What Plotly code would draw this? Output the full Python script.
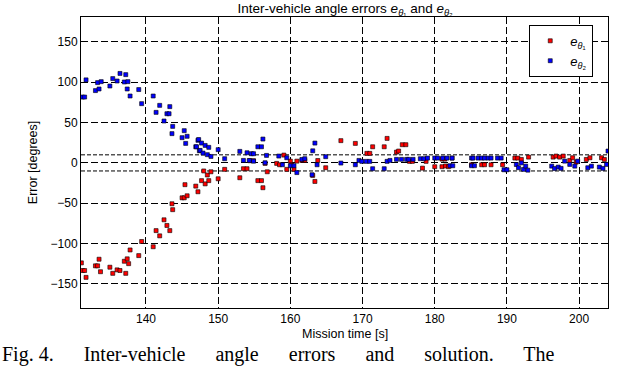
import plotly.graph_objects as go

# e_theta1 (red) samples: mission time [s], error [deg]
t1 = [131.05, 131.2, 131.5, 131.7, 133.0, 133.3, 133.5, 133.7, 135.0, 135.4,
      136.0, 136.4, 137.0, 137.2, 137.4, 137.6, 137.8, 139.0, 139.4, 141.0,
      141.4, 141.9, 142.5, 142.9, 143.3, 143.6, 143.7, 145.0, 145.3, 145.7,
      145.4, 146.9, 147.2, 147.7, 148.0, 148.2, 148.5, 148.7, 149.0, 150.0,
      150.9, 153.0, 153.5, 154.0, 154.4, 154.9, 155.5, 156.0, 156.2, 156.5,
      156.8, 158.1, 158.5, 159.1, 159.5, 160.0, 160.2, 160.5, 160.9, 161.6,
      162.0, 163.1, 163.4, 163.8, 164.9, 167.0, 169.0, 170.6, 171.0, 171.4,
      173.0, 173.4, 174.7, 175.0, 175.5, 176.0, 176.5, 176.9, 178.3, 178.8,
      180.0, 181.0, 181.5, 181.9, 181.0, 181.4, 182.4, 185.1, 186.5, 186.9,
      187.8, 189.4, 191.1, 191.5, 192.0, 193.0, 196.4, 196.8, 197.3, 197.8,
      198.7, 199.1, 199.6, 201.0, 201.5, 203.1, 203.5]
e1 = [-124, -133.5, -133.5, -142, -127.7, -127.7, -119.5, -135, -129.4, -137,
      -132.7, -133.5, -122, -137, -119, -125, -108, -115, -97.5, -104,
      -84, -90.5, -70.6, -77.6, -84, -50.7, -58, -43.3, -43.3, -40.8,
      -27, -28.8, -35.8, -22, -10, -26, -15, -22, -11, -19.7,
      -8, -18.4, -7.2, -7.2, 2.7, 2.7, -22, -22, -30.8, -0.6,
      -11, -0.6, -2.3, 9.7, -8, 2.2, -2.3, -8, 2.2, 3,
      3, -15.5, -23, 3, -6, 27.6, 24.2, 11.8, 11.8, 20,
      20, 30.4, 13.4, 14.7, 22.6, 22.6, 1.9, 1.9, -6.5, 1.9,
      -4.7, -4.7, -3.8, -4.7, 4.7, 4.7, 6, -2.3, -2.3, -2.3,
      -2.3, -2.3, 6, 6, 4.3, 7.2, 7.2, 8.5, 7.2, 8.5,
      3.1, 6.4, 1, 4.3, 6.4, 6.4, 4.3]

# e_theta2 (blue) samples
t2 = [131.2, 131.5, 131.7, 133.0, 133.3, 133.5, 133.8, 135.0, 135.4, 136.0,
      136.4, 137.0, 137.2, 137.4, 137.5, 137.8, 139.0, 139.4, 141.0, 141.4,
      141.9, 142.5, 142.9, 143.2, 143.3, 143.6, 143.7, 145.0, 145.3, 145.5,
      145.7, 146.9, 147.0, 147.2, 147.3, 147.4, 147.5, 147.7, 147.9, 148.2,
      148.5, 148.7, 149.0, 150.0, 150.9, 153.0, 153.5, 154.0, 154.3, 154.6,
      154.9, 154.9, 155.5, 156.0, 156.2, 156.5, 156.7, 158.4, 158.9, 159.5,
      160.0, 160.5, 160.9, 161.6, 162.0, 163.0, 163.1, 163.4, 163.7, 164.9,
      167.0, 169.0, 169.5, 169.9, 170.5, 171.0, 171.4, 173.0, 173.4, 173.8,
      174.7, 175.4, 176.1, 176.4, 177.0, 178.0, 178.5, 179.0, 180.0, 180.4,
      181.1, 181.7, 182.4, 182.1, 182.5, 185.1, 185.3, 185.1, 185.5, 186.0,
      186.5, 186.9, 187.4, 187.8, 188.7, 189.2, 189.6, 190.0, 191.3, 191.6,
      192.0, 192.3, 192.6, 192.9, 196.2, 196.6, 197.1, 197.5, 198.0, 198.7,
      199.4, 199.8, 201.2, 201.7, 202.8, 203.3, 203.8, 204.0]
e2 = [81.7, 81.7, 103, 89.7, 99.6, 91.7, 100.8, 95.4, 104.6, 101.6,
      111, 100.4, 109.5, 91.7, 100.8, 83, 91, 73.5, 83, 62.7,
      71.4, 52, 61, 61, 69.8, 36.3, 45.3, 31.3, 40, 24.2,
      33, 20, 20, 28, 29, 15, 15.5, 24.6, 12.2, 21.7,
      10.2, 19.3, 8, 16.4, 5.2, 14.3, 3.1, 12.6, 3, 11.4,
      11.4, 2.2, 20, 20, 29.6, 0.2, 9.3, 8.5, -2.3, 6.4,
      -3.5, -3.5, -12, 4.3, 5.2, -14.7, 15, 24.6, -2.3, 7.7,
      -0.2, -2.3, 3.1, 1.9, 1.9, 1.9, -7.2, -7.2, 1.9, 3.1,
      4.4, 4.4, 4.4, 4.4, 4.4, 5.2, 5.2, 6, 6, 6,
      6, 6, 6, -3.5, -3.5, 6, 6, -3.5, -3.5, 6,
      6, 6, 6, 6, 6, 6, -8.5, -8.5, -2, -6,
      0, -8, -4, -9, -4, -7, -5.2, -6.8, 2.2, -1.9,
      -4, 2.2, -6, -4, -5.2, -6.8, -1.9, 14.7]

x_ticks = [140, 150, 160, 170, 180, 190, 200]
y_ticks = [-150, -100, -50, 0, 50, 100, 150]
x_range = [131, 204]
y_range = [-180, 181]
band = 10  # +/- threshold lines

caption = "Fig. 4.      Inter-vehicle      angle      errors      and      solution.      The"

font = "Liberation Sans"
fig = go.Figure()
fig.add_trace(go.Scatter(x=t1, y=e1, mode="markers", name="<i>e</i><sub><i>θ</i>₁</sub>",
                         marker=dict(symbol="square", size=4, color="#ff0000",
                                     line=dict(color="black", width=0.6))))
fig.add_trace(go.Scatter(x=t2, y=e2, mode="markers", name="<i>e</i><sub><i>θ</i>₂</sub>",
                         marker=dict(symbol="square", size=4, color="#0000ff",
                                     line=dict(color="black", width=0.6))))

for yv in (band, -band):
    fig.add_hline(y=yv, line=dict(color="black", width=1, dash="4px,2px"), layer="below")

axis = dict(showline=True, linecolor="black", linewidth=1, mirror=True,
            showgrid=True, gridcolor="black", gridwidth=1, griddash="7px,3px",
            zeroline=False, ticks="", automargin=False,
            tickfont=dict(size=12, color="black"))
fig.update_xaxes(range=x_range, tickvals=x_ticks, **axis)
fig.update_yaxes(range=y_range, tickvals=y_ticks, title=dict(text="Error [degrees]", standoff=10,
                 font=dict(size=12.5, color="black")), **axis)

fig.update_layout(
    width=638, height=368,
    margin=dict(l=81, r=30, t=17, b=60),
    paper_bgcolor="white", plot_bgcolor="white",
    font=dict(family=font, size=12, color="black"),
    title=dict(text="Inter-vehicle angle errors <i>e</i><sub><i>θ</i>₁</sub> and <i>e</i><sub><i>θ</i>₂</sub>",
               x=0.541, xanchor="center", y=0.978, yanchor="middle", font=dict(size=13.5)),
    legend=dict(x=0.972, xanchor="right", y=0.973, yanchor="top",
                bordercolor="black", borderwidth=1, bgcolor="white",
                font=dict(size=13), itemwidth=30),
    showlegend=True,
)
fig.add_annotation(text="Mission time [s]", xref="paper", yref="paper", x=0.5, y=-0.09,
                   yanchor="middle", showarrow=False, font=dict(size=12.5))
fig.add_annotation(text=caption, xref="paper", yref="paper", x=-0.154, xanchor="left",
                   y=-0.112, yanchor="top", showarrow=False,
                   font=dict(family="Liberation Serif", size=20, color="black"))
fig.write_html("out.html", config={"displayModeBar": False},
               post_script="document.body.style.margin='0';")
